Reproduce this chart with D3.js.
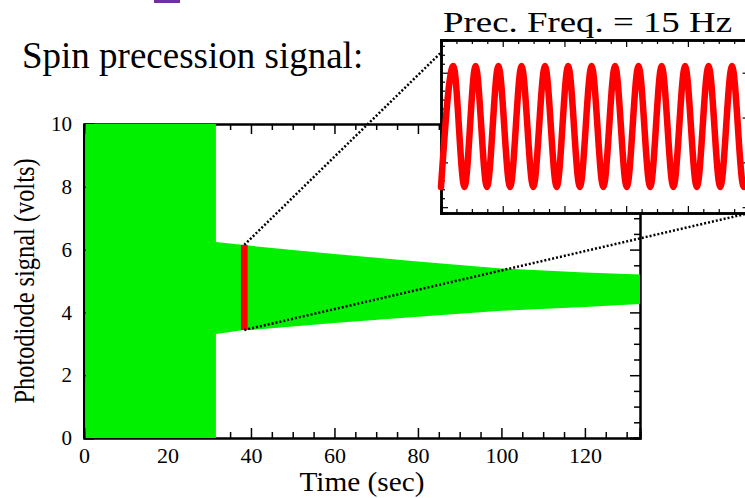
<!DOCTYPE html>
<html>
<head>
<meta charset="utf-8">
<script src="https://cdn.jsdelivr.net/npm/d3@7"></script>
<style>
  body { margin: 0; background: #fff; }
  svg { display: block; }
</style>
</head>
<body>
<svg id="chart" width="745" height="498"></svg>
<script>
// envelope of the photodiode signal (volts) vs time (sec)
const envTime = [0.4, 31.6, 31.6, 38.3, 40, 60, 80, 100, 120, 133.2];
const envHigh = [10, 10, 6.24, 6.15, 6.12, 5.86, 5.62, 5.40, 5.27, 5.21];
const envLow  = [0, 0, 3.31, 3.44, 3.44, 3.66, 3.86, 4.05, 4.17, 4.27];

// zoomed window shown in the inset (sec) and its signal range (volts)
const zoomWindow = [37.6, 39.2];
const zoomRange = [3.44, 6.15];

// inset: extrema of the precession signal, time (sec) in the 1 s window
const insetTime = [0, 0.040, 0.076, 0.112, 0.149, 0.186, 0.224, 0.261, 0.299, 0.337,
  0.375, 0.412, 0.450, 0.488, 0.526, 0.564, 0.602, 0.640, 0.678, 0.715,
  0.753, 0.791, 0.829, 0.867, 0.905, 0.943, 0.981, 1.0];
const insetVolt = [3.45, 6.15, 3.45, 6.15, 3.45, 6.15, 3.45, 6.15, 3.45, 6.15,
  3.45, 6.15, 3.45, 6.15, 3.45, 6.15, 3.45, 6.15, 3.45, 6.15,
  3.45, 6.15, 3.45, 6.15, 3.45, 6.15, 3.45, 3.6];

const xTicks = [0, 20, 40, 60, 80, 100, 120];
const yTicks = [0, 2, 4, 6, 8, 10];

const FONT = "Liberation Serif, DejaVu Serif, serif";

const svg = d3.select("#chart").attr("font-family", FONT);

// main plot scales
const x = d3.scaleLinear().domain([0, 133.2]).range([84, 640]);
const y = d3.scaleLinear().domain([0, 10]).range([438, 124]);

// inset scales
const ix = d3.scaleLinear().domain([0, 1]).range([441, 749.6]);
const iy = d3.scaleLinear().domain([2.87, 6.73]).range([213, 40]);

// little purple bit cut off at the top of the slide
svg.append("rect").attr("x", 154).attr("y", 0).attr("width", 26).attr("height", 3)
  .attr("fill", "#7030a0");

svg.append("text").attr("x", 22).attr("y", 68)
  .attr("font-family", FONT).attr("font-size", 37).text("Spin precession signal:");

// ---- main axes ----
const minorX = d3.range(0, 133, 5).filter(d => d % 20 !== 0);
const minorY = d3.range(0, 10.01, 0.5).filter(d => d % 2 !== 0);

function styleAxis(g) {
  g.attr("font-family", FONT).attr("font-size", 22);
  g.select(".domain").attr("stroke", "#000").attr("stroke-width", 2);
  g.selectAll(".tick line").attr("stroke", "#000").attr("stroke-width", 1.5);
  g.selectAll(".tick text").attr("fill", "#000");
}

svg.append("g").attr("transform", "translate(0,438)")
  .call(d3.axisBottom(x).tickValues(xTicks).tickSize(-10).tickPadding(9).tickFormat(d3.format("d")))
  .call(styleAxis);
svg.append("g").attr("transform", "translate(0,438)")
  .call(d3.axisBottom(x).tickValues(minorX).tickSize(-6).tickFormat(""))
  .call(styleAxis);

svg.append("g").attr("transform", "translate(0,124)")
  .call(d3.axisTop(x).tickValues(xTicks).tickSize(-10).tickFormat(""))
  .call(styleAxis);
svg.append("g").attr("transform", "translate(0,124)")
  .call(d3.axisTop(x).tickValues(minorX).tickSize(-6).tickFormat(""))
  .call(styleAxis);

svg.append("g").attr("transform", "translate(640,0)")
  .call(d3.axisRight(y).tickValues(yTicks).tickSize(-10).tickFormat(""))
  .call(styleAxis);
svg.append("g").attr("transform", "translate(640,0)")
  .call(d3.axisRight(y).tickValues(minorY).tickSize(-6).tickFormat(""))
  .call(styleAxis);

svg.append("g").attr("transform", "translate(84,0)")
  .call(d3.axisLeft(y).tickValues(yTicks).tickSize(-10).tickPadding(12))
  .call(styleAxis)
  .attr("font-size", 21);

// ---- signal ----
const env = envTime.map((t, i) => ({ t: t, hi: envHigh[i], lo: envLow[i] }));
svg.append("path").datum(env)
  .attr("fill", "#00f000")
  .attr("d", d3.area().x(d => x(d.t)).y0(d => y(d.lo)).y1(d => y(d.hi)));

// left axis line shows over the green
svg.append("line")
  .attr("x1", x(0)).attr("x2", x(0)).attr("y1", y(0)).attr("y2", y(10))
  .attr("stroke", "#000").attr("stroke-width", 2);

// red marker: the window that is blown up in the inset
svg.append("rect")
  .attr("x", x(zoomWindow[0])).attr("width", x(zoomWindow[1]) - x(zoomWindow[0]))
  .attr("y", y(zoomRange[1])).attr("height", y(zoomRange[0]) - y(zoomRange[1]))
  .attr("fill", "#ff0000");

const xm = x((zoomWindow[0] + zoomWindow[1]) / 2);
const dotted = [
  [xm, y(zoomRange[1]), ix(0), iy(6.45)],
  [xm, y(zoomRange[0]), ix(1), iy(2.87)]
];
svg.selectAll("line.zoomline").data(dotted).join("line")
  .attr("class", "zoomline")
  .attr("x1", d => d[0]).attr("y1", d => d[1]).attr("x2", d => d[2]).attr("y2", d => d[3])
  .attr("stroke", "#000").attr("stroke-width", 2.5).attr("stroke-dasharray", "2,2");

// axis titles
svg.append("text").attr("x", 362).attr("y", 491).attr("text-anchor", "middle")
  .attr("font-family", FONT).attr("font-size", 27)
  .attr("textLength", 125).attr("lengthAdjust", "spacingAndGlyphs")
  .text("Time (sec)");
svg.append("text").attr("transform", "translate(34,281) rotate(-90)")
  .attr("text-anchor", "middle")
  .attr("font-family", FONT).attr("font-size", 29)
  .attr("textLength", 245).attr("lengthAdjust", "spacingAndGlyphs")
  .text("Photodiode signal (volts)");

// ---- inset ----
const inset = svg.append("g");
inset.append("rect")
  .attr("x", ix(0)).attr("y", iy(6.73))
  .attr("width", ix(1) - ix(0)).attr("height", iy(2.87) - iy(6.73))
  .attr("fill", "#fff");

const ixMinor = d3.range(0, 1.001, 0.05).filter(d => Math.abs(d * 5 - Math.round(d * 5)) > 1e-6);
const ixMajor = d3.range(0, 1.001, 0.2);
const iyMinor = d3.range(3, 6.71, 0.2).filter(d => Math.abs(d - Math.round(d)) > 1e-6);
const iyMajor = [3, 4, 5, 6];

function insetAxis(axisFn, pos, vals, size) {
  inset.append("g").attr("transform", pos)
    .call(axisFn.tickValues(vals).tickSize(size).tickFormat(""))
    .call(g => {
      g.select(".domain").attr("stroke", "#000").attr("stroke-width", 2.5);
      g.selectAll(".tick line").attr("stroke", "#000").attr("stroke-width", 1.2);
    });
}
insetAxis(d3.axisTop(ix), `translate(0,${iy(6.73)})`, ixMinor, -4);
insetAxis(d3.axisTop(ix), `translate(0,${iy(6.73)})`, ixMajor, -7);
insetAxis(d3.axisBottom(ix), `translate(0,${iy(2.87)})`, ixMinor, -4);
insetAxis(d3.axisBottom(ix), `translate(0,${iy(2.87)})`, ixMajor, -7);
insetAxis(d3.axisLeft(iy), `translate(${ix(0)},0)`, iyMinor, -4);
insetAxis(d3.axisLeft(iy), `translate(${ix(0)},0)`, iyMajor, -7);
insetAxis(d3.axisRight(iy), `translate(${ix(1)},0)`, iyMinor, -4);
insetAxis(d3.axisRight(iy), `translate(${ix(1)},0)`, iyMajor, -7);

const wave = insetTime.map((t, i) => ({ t: t, v: insetVolt[i] }));
inset.append("path").datum(wave)
  .attr("fill", "none").attr("stroke", "#ff0000").attr("stroke-width", 6.5)
  .attr("stroke-linejoin", "round").attr("stroke-linecap", "round")
  .attr("d", d3.line().x(d => ix(d.t)).y(d => iy(d.v)).curve(d3.curveMonotoneX));

svg.append("text").attr("x", 443).attr("y", 32)
  .attr("font-family", FONT).attr("font-size", 30)
  .attr("textLength", 289).attr("lengthAdjust", "spacingAndGlyphs")
  .text("Prec. Freq. = 15 Hz");
</script>
</body>
</html>
